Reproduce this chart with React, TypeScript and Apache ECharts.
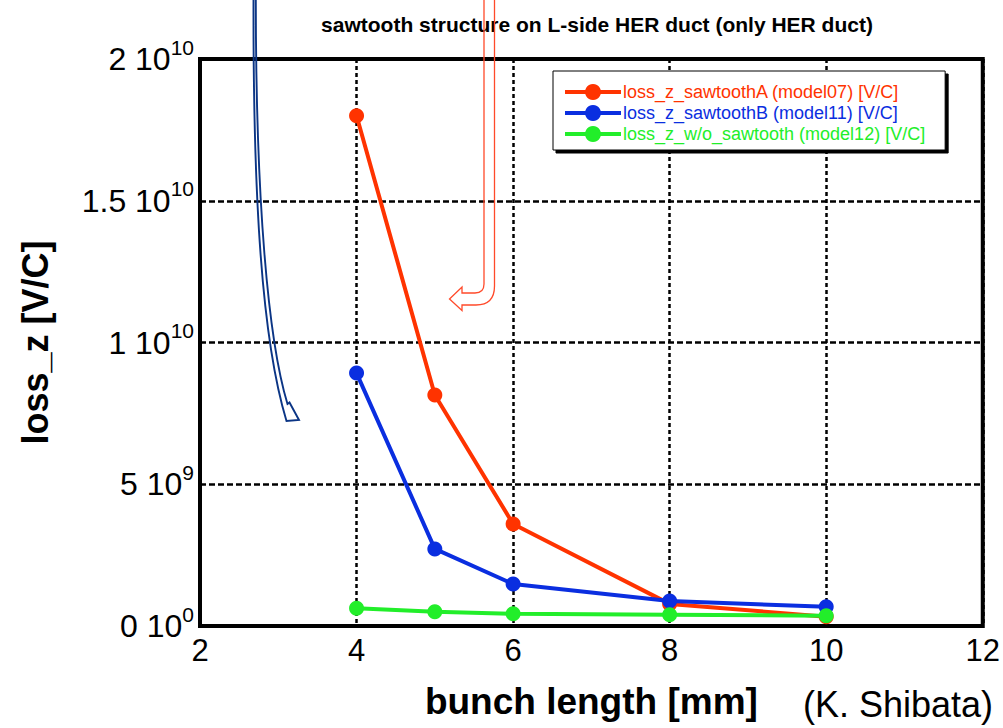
import React, { useEffect, useRef } from "react";
import * as echarts from "echarts";

const bunchLength = [4, 5, 6, 8, 10];
const sawtoothA = [1.80e10, 8.15e9, 3.6e9, 0.78e9, 0.33e9];
const sawtoothB = [8.92e9, 2.72e9, 1.48e9, 0.88e9, 0.68e9];
const withoutSawtooth = [0.63e9, 0.5e9, 0.43e9, 0.4e9, 0.36e9];

const seriesNames = [
  "loss_z_sawtoothA (model07) [V/C]",
  "loss_z_sawtoothB (model11) [V/C]",
  "loss_z_w/o_sawtooth (model12) [V/C]",
];
const seriesColors = ["#ff3300", "#0a2ee0", "#22ee2a"];

const yTickValues = [0, 5e9, 1e10, 1.5e10, 2e10];
const yTickMantissa = ["0", "5", "1", "1.5", "2"];
const yTickExponent = ["0", "9", "10", "10", "10"];

const titleText = "sawtooth structure on L-side HER duct (only HER duct)";
const xName = "bunch length [mm]";
const yName = "loss_z [V/C]";
const credit = "(K. Shibata)";

const FONT = "'Liberation Sans', Arial, Helvetica, sans-serif";

const redArrowPath =
  "M484,-2 L484,284 Q484,293 475,293 L462,293 L462,287 L449.5,299 L462,310.5 L462,305 L476,305 Q494.5,305 494.5,286 L494.5,-2";
const blueArrowPath =
  "M253.5,-2 C253,200 262,340 286.5,421 L299,420 L289.5,402.5 L287.5,404 C268,340 255.8,200 255.8,-2";

echarts.graphic.registerShape("redArrow", echarts.graphic.extendPath(redArrowPath, {}) as any);
echarts.graphic.registerShape("blueArrow", echarts.graphic.extendPath(blueArrowPath, {}) as any);

export default function App() {
  const ref = useRef<HTMLDivElement>(null);
  useEffect(() => {
    if (!ref.current) return;
    const chart = echarts.init(ref.current, null, { renderer: "svg" });
    const mk = (data: number[], i: number) => ({
      name: seriesNames[i],
      type: "line",
      data: bunchLength.map((x, k) => [x, data[k]]),
      symbol: "circle",
      symbolSize: 15,
      color: seriesColors[i],
      lineStyle: { width: 4, color: seriesColors[i] },
      itemStyle: { color: seriesColors[i] },
      z: 3 + i,
    });
    chart.setOption({
      animation: false,
      backgroundColor: "#ffffff",
      textStyle: { fontFamily: FONT },
      title: {
        text: titleText,
        left: 592,
        top: 9,
        textAlign: "center",
        textStyle: { fontSize: 21, fontWeight: "bold", color: "#000", fontFamily: FONT },
      },
      grid: {
        left: 200,
        top: 59,
        width: 783,
        height: 567,
        show: true,
        borderColor: "#000",
        borderWidth: 4,
        backgroundColor: "transparent",
      },
      legend: {
        orient: "vertical",
        left: 553,
        top: 71,
        padding: [12, 20, 7, 10],
        itemWidth: 56,
        itemHeight: 20,
        itemGap: 3,
        backgroundColor: "#fff",
        borderColor: "#000",
        borderWidth: 1,
        shadowColor: "#000",
        shadowOffsetX: 3,
        shadowOffsetY: 3,
        shadowBlur: 0,
        lineStyle: { width: 4 },
        textStyle: { fontSize: 18, fontFamily: FONT, padding: [0, 0, 0, -3] },
        data: seriesNames.map((n, i) => ({ name: n, textStyle: { color: seriesColors[i] } })),
      },
      xAxis: {
        type: "value",
        min: 2,
        max: 12,
        interval: 2,
        name: xName,
        nameLocation: "middle",
        nameGap: 57,
        nameTextStyle: { fontSize: 37, fontWeight: "bold", color: "#000", fontFamily: FONT },
        axisLine: { show: false },
        axisTick: { show: false },
        axisLabel: { fontSize: 31, color: "#000", margin: 9, fontFamily: FONT },
        splitLine: { show: true, lineStyle: { color: "#000", width: 2.5, type: [4, 3] } },
      },
      yAxis: {
        type: "value",
        min: 0,
        max: 2e10,
        interval: 5e9,
        name: yName,
        nameLocation: "middle",
        nameGap: 147,
        nameRotate: 90,
        nameTextStyle: { fontSize: 36, fontWeight: "bold", color: "#000", fontFamily: FONT },
        axisLine: { show: false },
        axisTick: { show: false },
        axisLabel: {
          margin: 6,
          color: "#000",
          formatter: (v: number) => {
            const i = yTickValues.indexOf(v);
            if (i < 0) return "";
            return `{b|${yTickMantissa[i]} 10}{s|${yTickExponent[i]}}`;
          },
          rich: {
            b: { fontSize: 32, color: "#000", fontFamily: FONT, lineHeight: 32 },
            s: { fontSize: 21, color: "#000", fontFamily: FONT, lineHeight: 20, padding: [0, 0, 24, 0] },
          },
        },
        splitLine: { show: true, lineStyle: { color: "#000", width: 2.5, type: [6, 3] } },
      },
      series: [mk(sawtoothA, 0), mk(sawtoothB, 1), mk(withoutSawtooth, 2)],
      graphic: [
        {
          type: "text",
          left: 803,
          top: 686,
          style: { text: credit, fontSize: 36, fill: "#000", fontFamily: FONT },
        },
        {
          type: "redArrow",
          x: 0,
          y: 0,
          z: 100,
          style: { fill: "none", stroke: "#ff4a2a", lineWidth: 1.3 },
        },
        {
          type: "blueArrow",
          x: 0,
          y: 0,
          z: 100,
          style: { fill: "none", stroke: "#0b3585", lineWidth: 1.9 },
        },
      ],
    });
    return () => chart.dispose();
  }, []);
  return (
    <div
      ref={ref}
      style={{ position: "fixed", left: 0, top: 0, width: 1003, height: 728, background: "#fff" }}
    />
  );
}
